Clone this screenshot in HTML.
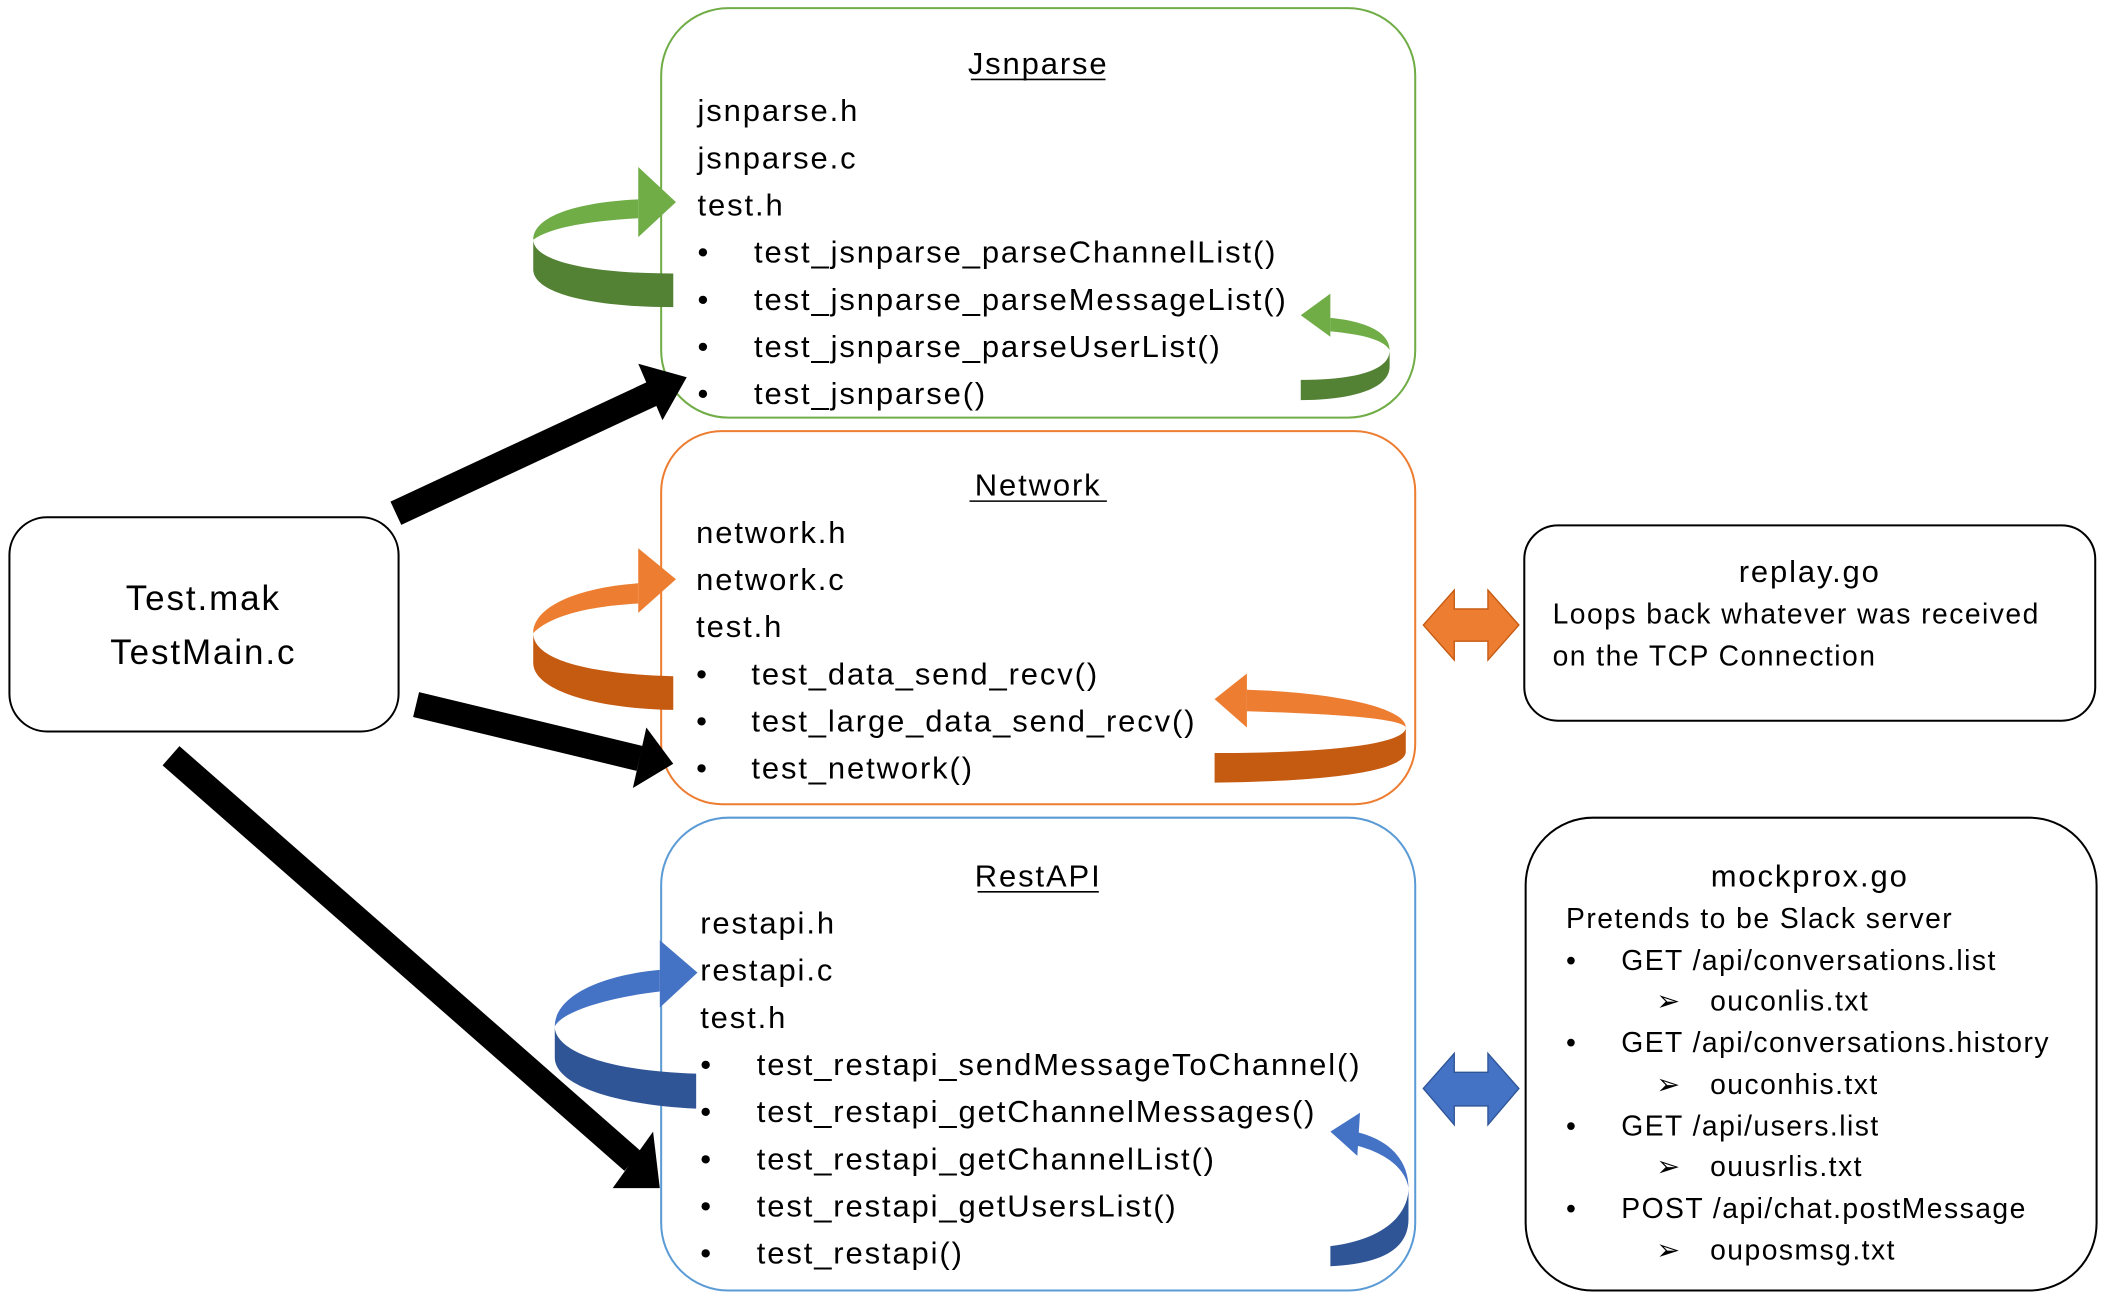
<!DOCTYPE html>
<html><head><meta charset="utf-8"><style>
html,body{margin:0;padding:0;background:#fff}
svg{display:block}
text{font-family:"Liberation Sans",sans-serif;font-size:23px;letter-spacing:1.4px;fill:#000}
.s{font-size:21px;letter-spacing:1.1px}
</style></head><body>
<svg width="2106" height="1304" viewBox="0 0 1564 968" preserveAspectRatio="none" xmlns="http://www.w3.org/2000/svg">
<rect x="491" y="6" width="560" height="304" rx="50" fill="#fff" stroke="#70ad47" stroke-width="1.5"/>
<rect x="491" y="320" width="560" height="277" rx="45" fill="#fff" stroke="#ed7d31" stroke-width="1.5"/>
<rect x="491" y="607" width="560" height="351" rx="50" fill="#fff" stroke="#5b9bd5" stroke-width="1.5"/>
<rect x="7" y="384" width="289" height="159" rx="28" fill="#fff" stroke="#000" stroke-width="1.5"/>
<rect x="1132" y="390" width="424" height="145" rx="25" fill="#fff" stroke="#000" stroke-width="1.5"/>
<rect x="1133" y="607" width="424" height="351" rx="50" fill="#fff" stroke="#000" stroke-width="1.5"/>

<text x="151" y="453" text-anchor="middle" style="font-size:26px">Test.mak</text>
<text x="151" y="493" text-anchor="middle" style="font-size:26px">TestMain.c</text>

<text x="771" y="55" text-anchor="middle">Jsnparse</text>
<line x1="721" y1="59" x2="821" y2="59" stroke="#000" stroke-width="1.2"/>
<text x="518" y="90">jsnparse.h</text>
<text x="518" y="125">jsnparse.c</text>
<text x="518" y="160">test.h</text>
<text x="518" y="195">•</text><text x="560" y="195">test_jsnparse_parseChannelList()</text>
<text x="518" y="230">•</text><text x="560" y="230">test_jsnparse_parseMessageList()</text>
<text x="518" y="265">•</text><text x="560" y="265">test_jsnparse_parseUserList()</text>
<text x="518" y="300">•</text><text x="560" y="300">test_jsnparse()</text>

<text x="771" y="368" text-anchor="middle">Network</text>
<line x1="720" y1="372" x2="822" y2="372" stroke="#000" stroke-width="1.2"/>
<text x="517" y="403">network.h</text>
<text x="517" y="438">network.c</text>
<text x="517" y="473">test.h</text>
<text x="517" y="508">•</text><text x="558" y="508">test_data_send_recv()</text>
<text x="517" y="543">•</text><text x="558" y="543">test_large_data_send_recv()</text>
<text x="517" y="578">•</text><text x="558" y="578">test_network()</text>

<text x="771" y="658" text-anchor="middle">RestAPI</text>
<line x1="726" y1="662" x2="816" y2="662" stroke="#000" stroke-width="1.2"/>
<text x="520" y="693">restapi.h</text>
<text x="520" y="728">restapi.c</text>
<text x="520" y="763">test.h</text>
<text x="520" y="798">•</text><text x="562" y="798">test_restapi_sendMessageToChannel()</text>
<text x="520" y="833">•</text><text x="562" y="833">test_restapi_getChannelMessages()</text>
<text x="520" y="868">•</text><text x="562" y="868">test_restapi_getChannelList()</text>
<text x="520" y="903">•</text><text x="562" y="903">test_restapi_getUsersList()</text>
<text x="520" y="938">•</text><text x="562" y="938">test_restapi()</text>

<text x="1344" y="432" text-anchor="middle">replay.go</text>
<text class="s" x="1153" y="463">Loops back whatever was received</text>
<text class="s" x="1153" y="494">on the TCP Connection</text>

<text x="1344" y="658" text-anchor="middle">mockprox.go</text>
<text class="s" x="1163" y="689">Pretends to be Slack server</text>
<text class="s" x="1163" y="720">•</text><text class="s" x="1204" y="720">GET /api/conversations.list</text>
<text class="s" x="1230" y="750">➢</text><text class="s" x="1270" y="750">ouconlis.txt</text>
<text class="s" x="1163" y="781">•</text><text class="s" x="1204" y="781">GET /api/conversations.history</text>
<text class="s" x="1230" y="812">➢</text><text class="s" x="1270" y="812">ouconhis.txt</text>
<text class="s" x="1163" y="843">•</text><text class="s" x="1204" y="843">GET /api/users.list</text>
<text class="s" x="1230" y="873">➢</text><text class="s" x="1270" y="873">ouusrlis.txt</text>
<text class="s" x="1163" y="904">•</text><text class="s" x="1204" y="904">POST /api/chat.postMessage</text>
<text class="s" x="1230" y="935">➢</text><text class="s" x="1270" y="935">ouposmsg.txt</text>

<line x1="294" y1="381" x2="485" y2="292" stroke="#000" stroke-width="19"/>
<polygon points="474,270 510,280 492,312" fill="#000"/>
<line x1="309" y1="523" x2="475" y2="563" stroke="#000" stroke-width="19"/>
<polygon points="480,540 500,567 470,585" fill="#000"/>
<line x1="127" y1="561" x2="470" y2="862" stroke="#000" stroke-width="19"/>
<polygon points="485,840 490,882 455,882" fill="#000"/>

<path d="M500,203 C430,203 396,192 396,178 L396,200 C396,218 440,228 500,228 Z" fill="#548235"/>
<path d="M396,178 C396,160 430,150 474,148 L474,162 C440,164 410,168 396,178 Z" fill="#70ad47"/>
<polygon points="474,124 502,150 474,176" fill="#70ad47"/>
<path d="M966,282 C1010,282 1032,274 1032,260 L1032,272 C1032,290 1000,297 966,297 Z" fill="#548235"/>
<path d="M1032,260 C1032,245 1010,238 988,236 L988,246 C1010,248 1028,252 1032,260 Z" fill="#70ad47"/>
<polygon points="988,218 966,234 988,250" fill="#70ad47"/>

<path d="M500,502 C430,500 396,488 396,470 L396,492 C396,512 440,526 500,527 Z" fill="#c55a11"/>
<path d="M396,470 C396,450 430,436 474,433 L474,448 C440,450 410,456 396,470 Z" fill="#ed7d31"/>
<polygon points="474,407 502,430 474,455" fill="#ed7d31"/>
<path d="M902,559 C990,559 1044,552 1044,540 L1044,558 C1044,572 990,580 902,581 Z" fill="#c55a11"/>
<path d="M1044,540 C1044,525 990,514 926,512 L926,528 C990,530 1040,533 1044,540 Z" fill="#ed7d31"/>
<polygon points="926,500 902,519 926,540" fill="#ed7d31"/>

<path d="M517,797 C450,795 412,780 412,762 L412,785 C412,805 455,820 517,823 Z" fill="#2f5597"/>
<path d="M412,762 C412,740 445,724 490,720 L490,736 C455,740 418,750 412,762 Z" fill="#4472c4"/>
<polygon points="490,698 518,722 490,748" fill="#4472c4"/>
<path d="M988,925 C1030,920 1046,900 1046,882 L1046,905 C1046,925 1030,938 988,940 Z" fill="#2f5597"/>
<path d="M1046,882 C1046,860 1030,845 1006,840 L1006,850 C1030,856 1044,868 1046,882 Z" fill="#4472c4"/>
<polygon points="1010,826 988,840 1008,858" fill="#4472c4"/>

<polygon points="1057,464 1080,438 1080,452 1105,452 1105,438 1128,464 1105,490 1105,476 1080,476 1080,490" fill="#ed7d31" stroke="#c55a11" stroke-width="1"/>
<polygon points="1057,808 1080,782 1080,796 1105,796 1105,782 1128,808 1105,835 1105,821 1080,821 1080,835" fill="#4472c4" stroke="#2f5597" stroke-width="1"/>
</svg>
</body></html>
